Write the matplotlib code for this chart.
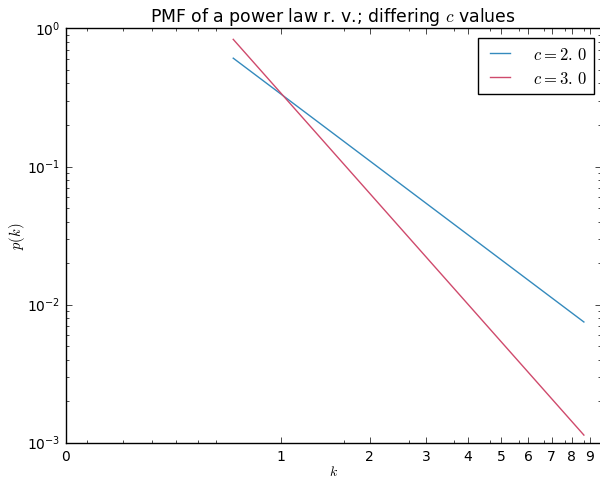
import numpy as np
import matplotlib
matplotlib.use("Agg")
import matplotlib.pyplot as plt
from matplotlib.ticker import NullFormatter

plt.style.use("classic")

# power law pmf p(k) = k^-c / zeta(c)
k = np.arange(1, 10)
c_values = [2.0, 3.0]
c_labels = [r"$c = 2.\,0$", r"$c = 3.\,0$"]
zeta = {2.0: 1.6449, 3.0: 1.2021}
colors = ["#348ABD", "#CF4A6C"]

tick_pos = np.arange(10) + 0.35
tick_labels = [str(i) for i in range(10)]

fig = plt.figure(figsize=(6, 4.81), dpi=100)
ax = fig.add_axes([65.7 / 600, 37.0 / 481, 535.0 / 600, 414.7 / 481])

for c, lab, col in zip(c_values, c_labels, colors):
    ax.plot(k, k ** (-c) / zeta[c], color=col, lw=1.0, label=lab)

ax.set_xscale("log")
ax.set_yscale("log")
ax.set_xlim(0.35, 10)
ax.set_ylim(1e-3, 1)
ax.set_xticks(tick_pos)
ax.set_xticklabels(tick_labels)
ax.xaxis.set_minor_formatter(NullFormatter())
ax.tick_params(labelsize=10)

ax.set_title("PMF of a power law r. v.; differing $c$ values", fontsize=12.4)
ax.set_xlabel("$k$", fontsize=10, labelpad=1)
ax.set_ylabel("$p(k)$", fontsize=10.5, labelpad=0)
ax.legend(loc="upper right", bbox_to_anchor=(1.0, 0.9925), fontsize=12,
          handlelength=1.8, handletextpad=1.1, borderpad=0.4,
          labelspacing=0.35, borderaxespad=0.42)

fig.savefig("out.png", dpi=100)
